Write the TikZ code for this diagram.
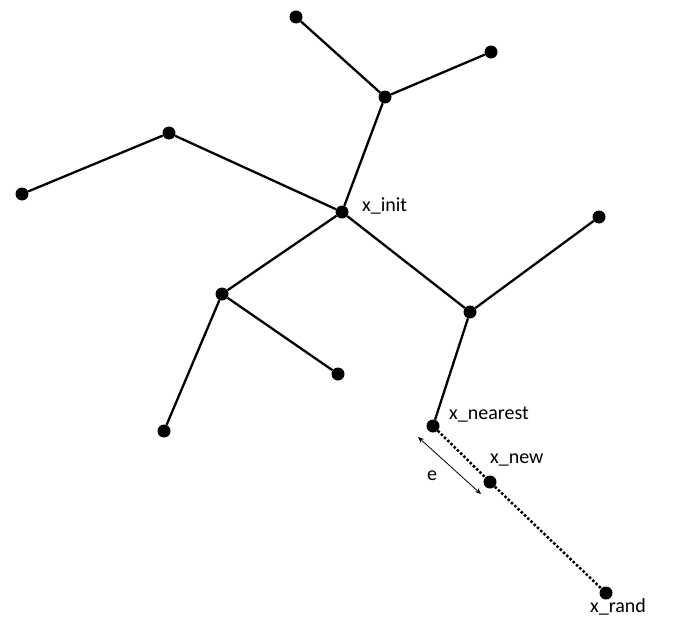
\documentclass[tikz,border=0pt]{standalone}
\usepackage{fontspec}
\setmainfont{Carlito}
\usetikzlibrary{arrows.meta}

\begin{document}
\begin{tikzpicture}[x=1pt, y=-1pt, font=\fontsize{20}{24}\selectfont,
  vertex/.style={circle, fill=black, inner sep=0pt, minimum size=13pt},
  edge/.style={line width=2.3pt},
  tag/.style={anchor=west, inner sep=0pt}]
  \useasboundingbox (0,0) rectangle (675,621);
  % tree nodes
  \node[vertex] (init) at (342,212) {};
  \node[vertex] (top) at (385,97) {};
  \node[vertex] (topl) at (296,17) {};
  \node[vertex] (topr) at (491,52) {};
  \node[vertex] (left) at (169,133) {};
  \node[vertex] (farleft) at (22,194) {};
  \node[vertex] (low) at (222,294) {};
  \node[vertex] (lowr) at (338,374) {};
  \node[vertex] (lowl) at (164,431) {};
  \node[vertex] (right) at (470,312) {};
  \node[vertex] (rightup) at (599,217) {};
  \node[vertex] (nearest) at (433,426) {};
  \node[vertex] (new) at (490,482) {};
  \node[vertex] (rand) at (606,593) {};
  % edges
  \draw[edge] (init) -- (top);
  \draw[edge] (top) -- (topl);
  \draw[edge] (top) -- (topr);
  \draw[edge] (init) -- (left) -- (farleft);
  \draw[edge] (init) -- (low) -- (lowr);
  \draw[edge] (low) -- (lowl);
  \draw[edge] (init) -- (right) -- (rightup);
  \draw[edge] (right) -- (nearest);
  \draw[line width=2.5pt, dotted] (nearest) -- (new) -- (rand);
  % step length
  \coordinate (ea) at (418,437);
  \coordinate (eb) at (481,494);
  \draw[{Stealth[length=6pt,width=5pt]}-{Stealth[length=6pt,width=5pt]}, line width=0.8pt] (ea) -- (eb);
  \node (e) at (432,476) {e};
  % labels
  \node[tag] (linit) at (362,206) {x\_init};
  \node[tag] (lnearest) at (449,415) {x\_nearest};
  \node[tag] (lnew) at (490,460) {x\_new};
  \node[tag] (lrand) at (590,607) {x\_rand};
\end{tikzpicture}
\end{document}
